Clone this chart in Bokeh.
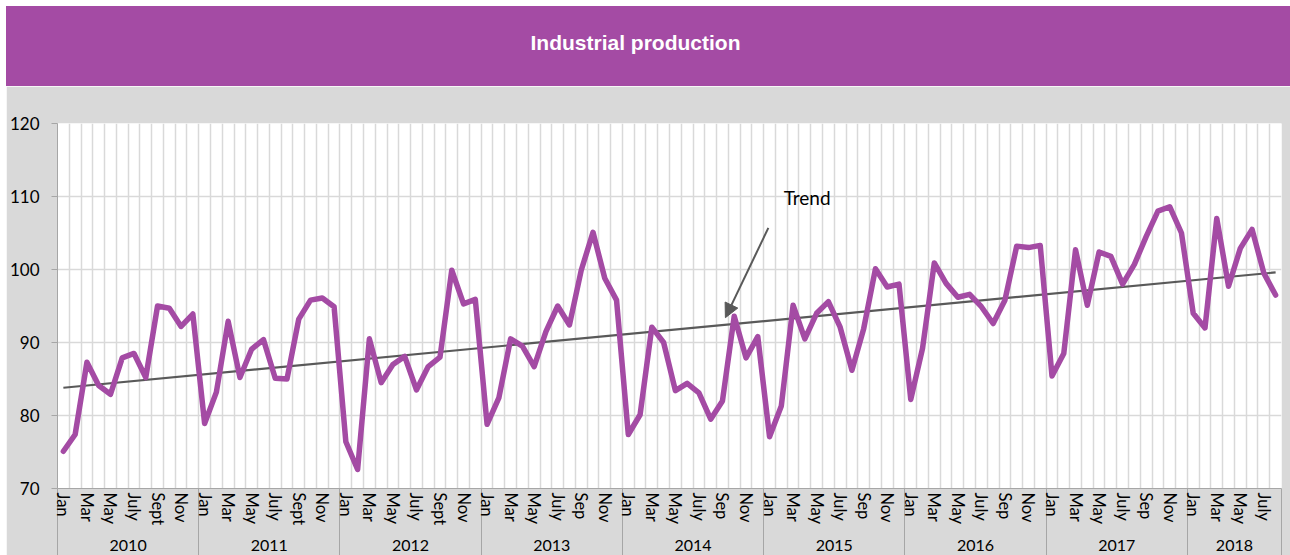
from bokeh.plotting import figure
from bokeh.models import (Div, FixedTicker, LinearAxis, Range1d, Label, Arrow,
                          NormalHead, ColumnDataSource)
from bokeh.layouts import column
from bokeh.embed import file_html
from bokeh.resources import INLINE

# ---------------- data ----------------
title_text = "Industrial production"
unit_text = "Indices, Ø 2017 = 100"
trend_text = "Trend"

years = ["2010", "2011", "2012", "2013", "2014", "2015", "2016", "2017", "2018"]
months_per_year = [12, 12, 12, 12, 12, 12, 12, 12, 8]
month_labels_sept = ["Jan", "", "Mar", "", "May", "", "July", "", "Sept", "", "Nov", ""]
month_labels_sep = ["Jan", "", "Mar", "", "May", "", "July", "", "Sep", "", "Nov", ""]
sept_years = ["2010", "2011", "2012"]

values = [
    # 2010
    75.1, 77.4, 87.3, 84.1, 82.9, 87.9, 88.5, 85.2, 95.0, 94.7, 92.2, 93.9,
    # 2011
    78.9, 83.2, 92.9, 85.2, 89.1, 90.4, 85.1, 85.0, 93.2, 95.8, 96.1, 94.9,
    # 2012
    76.4, 72.6, 90.5, 84.5, 87.0, 88.1, 83.5, 86.7, 88.0, 99.9, 95.3, 95.9,
    # 2013
    78.8, 82.4, 90.5, 89.5, 86.7, 91.5, 95.0, 92.4, 99.9, 105.1, 98.8, 95.8,
    # 2014
    77.4, 80.1, 92.1, 90.0, 83.4, 84.4, 83.1, 79.5, 82.0, 93.6, 87.9, 90.8,
    # 2015
    77.1, 81.3, 95.1, 90.5, 94.0, 95.6, 92.1, 86.2, 91.9, 100.1, 97.6, 98.0,
    # 2016
    82.2, 89.2, 100.9, 98.1, 96.2, 96.6, 94.9, 92.6, 95.8, 103.2, 103.0, 103.3,
    # 2017
    85.4, 88.5, 102.7, 95.1, 102.4, 101.8, 98.0, 100.7, 104.5, 108.0, 108.6, 105.0,
    # 2018
    94.0, 92.0, 107.0, 97.7, 102.9, 105.5, 99.5, 96.5,
]
trend_start = 83.8
trend_end = 99.6

y_ticks = [70, 80, 90, 100, 110, 120]

# ---------------- derived ----------------
n = len(values)
xs = list(range(n))

month_tick_pos = []
month_tick_lab = {}
year_centers = []
year_bounds = [-0.5]
idx = 0
for yr, cnt in zip(years, months_per_year):
    labs = month_labels_sept if yr in sept_years else month_labels_sep
    for m in range(cnt):
        if labs[m]:
            month_tick_pos.append(idx + m)
            month_tick_lab[idx + m] = labs[m]
    year_centers.append(idx + (cnt - 1) / 2)
    idx += cnt
    year_bounds.append(idx - 0.5)

PURPLE = "#A44BA4"
GREY_BG = "#D9D9D9"
GRID = "#D9D9D9"
AXIS = "#A6A6A6"
TREND = "#595959"
FONT = "Lato"

Y0, Y1 = 70, 120
BOTTOM_PX = 67         # px, height of the category-label band

# ---------------- title bar ----------------
header = Div(
    text=title_text, width=1284, height=80, margin=(6, 0, 0, 6),
    styles={"background-color": PURPLE, "color": "white",
            "font-family": "Liberation Sans", "font-weight": "bold",
            "font-size": "21px", "text-align": "center", "line-height": "74px",
            "text-indent": "-25px"},
)

# ---------------- figure ----------------
p = figure(width=1284, height=469, margin=(0, 0, 0, 6),
           output_backend="svg", toolbar_location=None,
           x_range=Range1d(-0.5, n - 0.5), y_range=Range1d(Y0, Y1),
           min_border_left=51, min_border_right=9, min_border_top=37,
           min_border_bottom=BOTTOM_PX)
p.border_fill_color = GREY_BG
p.background_fill_color = "white"
p.outline_line_color = None

# grids
p.xgrid.ticker = FixedTicker(ticks=[i + 0.5 for i in range(n - 1)])
p.xgrid.grid_line_color = GRID
p.xgrid.grid_line_width = 1.5
p.ygrid.ticker = FixedTicker(ticks=y_ticks)
p.ygrid.grid_line_color = GRID
p.ygrid.grid_line_width = 1.5

# y axis
p.yaxis.ticker = FixedTicker(ticks=y_ticks)
p.yaxis.axis_line_color = AXIS
p.yaxis.major_tick_line_color = AXIS
p.yaxis.major_tick_out = 6
p.yaxis.major_tick_in = 0
p.yaxis.minor_tick_line_color = None
p.yaxis.major_label_standoff = 12
p.yaxis.major_label_text_font = FONT
p.yaxis.major_label_text_font_size = "17px"
p.yaxis.major_label_text_color = "black"

# month axis; its minor ticks are the year separators running through the label band
mx = p.xaxis[0]
mx.ticker = FixedTicker(ticks=month_tick_pos, minor_ticks=year_bounds)
mx.major_label_overrides = month_tick_lab
mx.major_label_orientation = "vertical"
mx.major_tick_out = 0
mx.major_tick_in = 0
mx.minor_tick_out = BOTTOM_PX + 2
mx.minor_tick_in = 0
mx.minor_tick_line_color = AXIS
mx.minor_tick_line_width = 1
mx.major_label_standoff = 4 - (BOTTOM_PX + 2)
mx.axis_line_color = AXIS
mx.major_label_text_font = FONT
mx.major_label_text_font_size = "16.5px"
mx.major_label_text_color = "black"

# year axis
yax = LinearAxis(ticker=FixedTicker(ticks=year_centers),
                 major_label_overrides={c: y for c, y in zip(year_centers, years)})
yax.axis_line_color = None
yax.major_tick_line_color = None
yax.minor_tick_line_color = None
yax.major_label_standoff = 5
yax.major_label_text_font = FONT
yax.major_label_text_font_size = "16px"
yax.major_label_text_color = "black"
p.add_layout(yax, "below")

# trend line
p.line([xs[0], xs[-1]], [trend_start, trend_end], line_color=TREND, line_width=2.2)

# main series
src = ColumnDataSource(dict(x=xs, y=values))
p.line("x", "y", source=src, line_color=PURPLE, line_width=5.5,
       line_join="round", line_cap="round")

# annotations
p.add_layout(Arrow(end=NormalHead(size=14, fill_color=TREND, line_color=TREND),
                   x_start=59.9, y_start=105.7, x_end=56.25, y_end=93.4,
                   line_color=TREND, line_width=2))
p.add_layout(Label(x=61.2, y=109.9, text=trend_text, text_font=FONT,
                   text_font_size="19px", text_color="black",
                   text_baseline="middle"))
p.add_layout(Label(x=0.35, y=122.7, text=unit_text, text_font=FONT,
                   text_font_size="15px", text_color="black",
                   text_baseline="middle"))

layout = column(header, p, spacing=0)
open("out.html", "w").write(file_html(layout, INLINE))
